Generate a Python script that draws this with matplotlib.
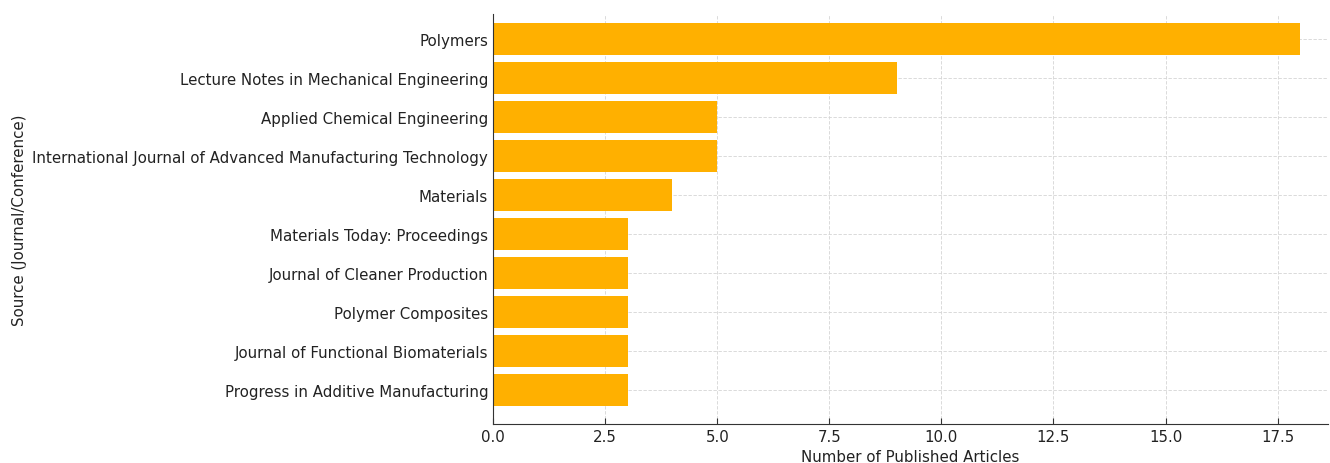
import matplotlib
matplotlib.use("Agg")
import matplotlib.pyplot as plt

# Datos del grafico
fuentes = [
    "Polymers",
    "Lecture Notes in Mechanical Engineering",
    "Applied Chemical Engineering",
    "International Journal of Advanced Manufacturing Technology",
    "Materials",
    "Materials Today: Proceedings",
    "Journal of Cleaner Production",
    "Polymer Composites",
    "Journal of Functional Biomaterials",
    "Progress in Additive Manufacturing",
]
articulos = [18, 9, 5, 5, 4, 3, 3, 3, 3, 3]
xticks = [0, 2.5, 5, 7.5, 10, 12.5, 15, 17.5]

fs = 10.8
fig = plt.figure(figsize=(13.3, 4.64), dpi=100)
ax = fig.add_axes([0.3707, 0.084, 0.628, 0.8837])

pos = list(range(len(fuentes)))
ax.barh(pos, articulos, height=0.8, color="#FFB000", zorder=2)
ax.set_yticks(pos)
ax.set_yticklabels(fuentes, fontsize=fs, color="#222222")
ax.set_xticks(xticks)
ax.set_xticklabels([f"{v:.1f}" for v in xticks], fontsize=fs, color="#222222")
ax.set_xlim(0, 18.63)
ax.set_ylim(9.87, -0.64)

ax.set_xlabel("Number of Published Articles", fontsize=fs, color="#222222", labelpad=4)
ax.set_ylabel("Source (Journal/Conference)", fontsize=fs, color="#222222")

ax.grid(True, linestyle=(0, (4, 2)), color="#d4d4d4", linewidth=0.6, zorder=0)
ax.tick_params(direction="in", length=4, color="#333333")
for s in ["top", "right"]:
    ax.spines[s].set_visible(False)
for s in ["left", "bottom"]:
    ax.spines[s].set_color("#333333")

fig.savefig("out.png", dpi=100)
